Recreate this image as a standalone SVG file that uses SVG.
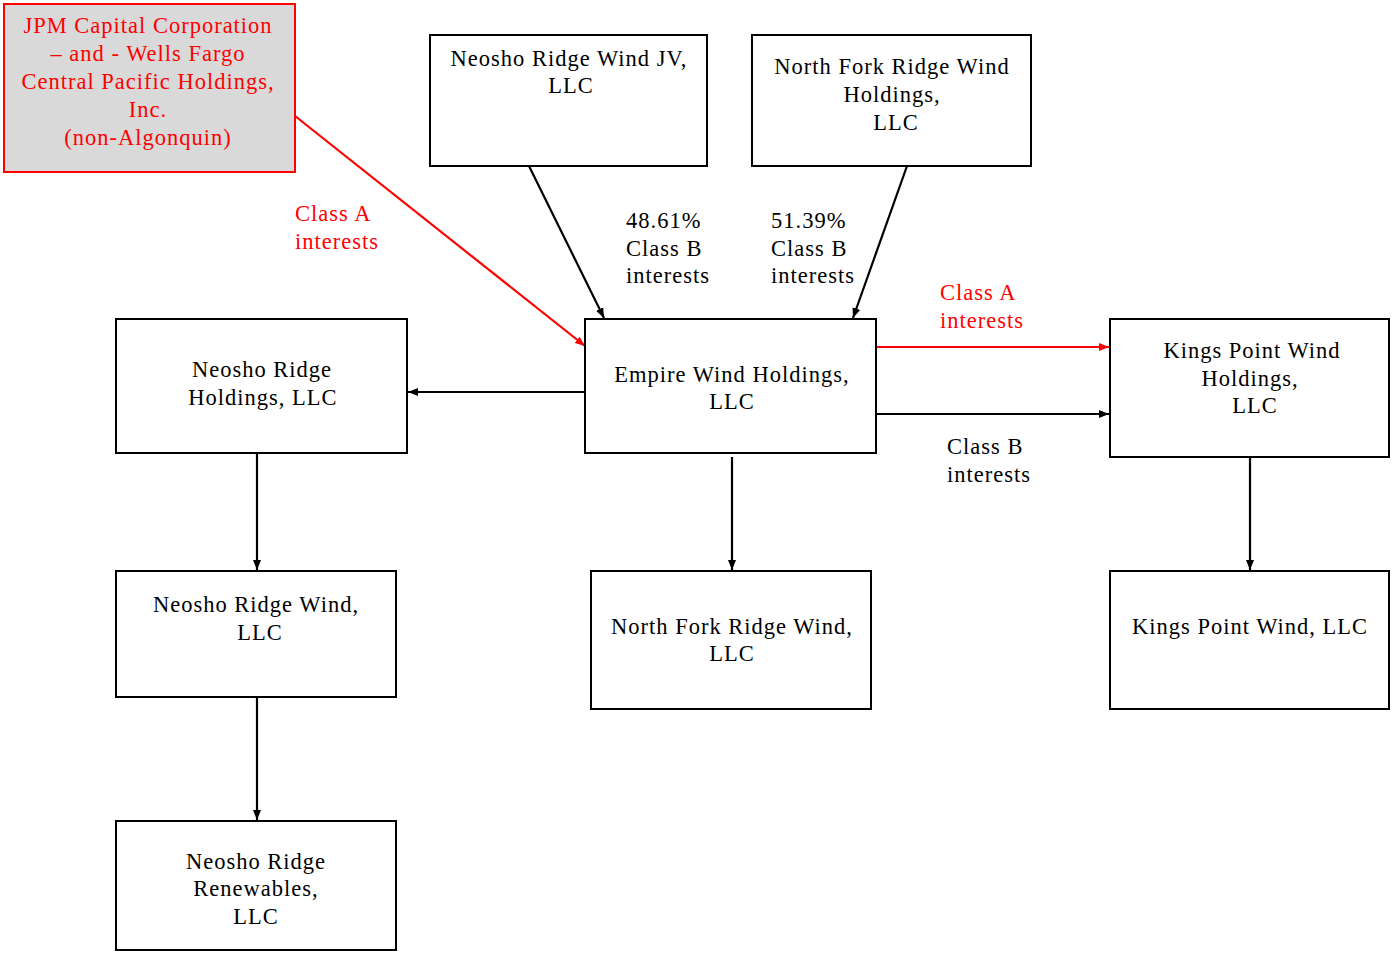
<svg xmlns="http://www.w3.org/2000/svg" width="1392" height="953" viewBox="0 0 1392 953">
<style>
.box{fill:#fff;stroke:#000;stroke-width:2}
.rbox{fill:#d9d9d9;stroke:#ff0000;stroke-width:2}
text{font-family:"Liberation Serif","Times New Roman",serif;font-size:22.5px;fill:#000;letter-spacing:1px}
.c{text-anchor:middle}
.red{fill:#ff0000}
.ln{stroke:#000;stroke-width:2.2;fill:none}
.rln{stroke:#ff0000;stroke-width:2.2;fill:none}
</style>
<defs>
<marker id="ab" markerUnits="userSpaceOnUse" markerWidth="12" markerHeight="12" refX="10" refY="6" orient="auto"><path d="M0,2 L10,6 L0,10 Z" fill="#000"/></marker>
<marker id="ar" markerUnits="userSpaceOnUse" markerWidth="12" markerHeight="12" refX="10" refY="6" orient="auto"><path d="M0,2 L10,6 L0,10 Z" fill="#ff0000"/></marker>
</defs>
<rect width="1392" height="953" fill="#fff"/>
<g id="connectors">
<line class="rln" x1="295" y1="116" x2="585" y2="346" marker-end="url(#ar)"/>
<line class="ln" x1="529" y1="166" x2="604" y2="318" marker-end="url(#ab)"/>
<line class="ln" x1="907" y1="166" x2="853" y2="318" marker-end="url(#ab)"/>
<line class="ln" x1="585" y1="392" x2="408" y2="392" marker-end="url(#ab)"/>
<line class="ln" x1="732" y1="457" x2="732" y2="570" marker-end="url(#ab)"/>
<line class="rln" x1="877" y1="347" x2="1109" y2="347" marker-end="url(#ar)"/>
<line class="ln" x1="877" y1="414" x2="1109" y2="414" marker-end="url(#ab)"/>
<line class="ln" x1="257" y1="454" x2="257" y2="570" marker-end="url(#ab)"/>
<line class="ln" x1="257" y1="698" x2="257" y2="820" marker-end="url(#ab)"/>
<line class="ln" x1="1250" y1="458" x2="1250" y2="570" marker-end="url(#ab)"/>
</g>
<g id="labels">
<text class="red" x="295" y="221">Class A</text>
<text class="red" x="295" y="249">interests</text>
<text x="626" y="228">48.61%</text>
<text x="626" y="256">Class B</text>
<text x="626" y="283">interests</text>
<text x="771" y="228">51.39%</text>
<text x="771" y="256">Class B</text>
<text x="771" y="283">interests</text>
<text class="red" x="940" y="300">Class A</text>
<text class="red" x="940" y="328">interests</text>
<text x="947" y="454">Class B</text>
<text x="947" y="482">interests</text>
</g>
<g id="jpm">
<rect class="rbox" x="4" y="4" width="291" height="168"/>
<text class="c red" x="148" y="33">JPM Capital Corporation</text>
<text class="c red" x="148" y="61">– and - Wells Fargo</text>
<text class="c red" x="148" y="89">Central Pacific Holdings,</text>
<text class="c red" x="148" y="117">Inc.</text>
<text class="c red" x="148" y="145">(non-Algonquin)</text>
</g>
<g id="neosho-jv">
<rect class="box" x="430" y="35" width="277" height="131"/>
<text class="c" x="569" y="66">Neosho Ridge Wind JV,</text>
<text class="c" x="571" y="93">LLC</text>
</g>
<g id="northfork-holdings">
<rect class="box" x="752" y="35" width="279" height="131"/>
<text class="c" x="892" y="74">North Fork Ridge Wind</text>
<text class="c" x="892" y="102">Holdings,</text>
<text class="c" x="896" y="130">LLC</text>
</g>
<g id="empire">
<rect class="box" x="585" y="319" width="291" height="134"/>
<text class="c" x="732" y="382">Empire Wind Holdings,</text>
<text class="c" x="732" y="409">LLC</text>
</g>
<g id="neosho-holdings">
<rect class="box" x="116" y="319" width="291" height="134"/>
<text class="c" x="262" y="377">Neosho Ridge</text>
<text class="c" x="263" y="405">Holdings, LLC</text>
</g>
<g id="kings-holdings">
<rect class="box" x="1110" y="319" width="279" height="138"/>
<text class="c" x="1252" y="358">Kings Point Wind</text>
<text class="c" x="1250" y="386">Holdings,</text>
<text class="c" x="1255" y="413">LLC</text>
</g>
<g id="neosho-wind">
<rect class="box" x="116" y="571" width="280" height="126"/>
<text class="c" x="256" y="612">Neosho Ridge Wind,</text>
<text class="c" x="260" y="640">LLC</text>
</g>
<g id="northfork-wind">
<rect class="box" x="591" y="571" width="280" height="138"/>
<text class="c" x="732" y="634">North Fork Ridge Wind,</text>
<text class="c" x="732" y="661">LLC</text>
</g>
<g id="kings-wind">
<rect class="box" x="1110" y="571" width="279" height="138"/>
<text class="c" x="1250" y="634">Kings Point Wind, LLC</text>
</g>
<g id="neosho-renewables">
<rect class="box" x="116" y="821" width="280" height="129"/>
<text class="c" x="256" y="869">Neosho Ridge</text>
<text class="c" x="256" y="896">Renewables,</text>
<text class="c" x="256" y="924">LLC</text>
</g>
</svg>
